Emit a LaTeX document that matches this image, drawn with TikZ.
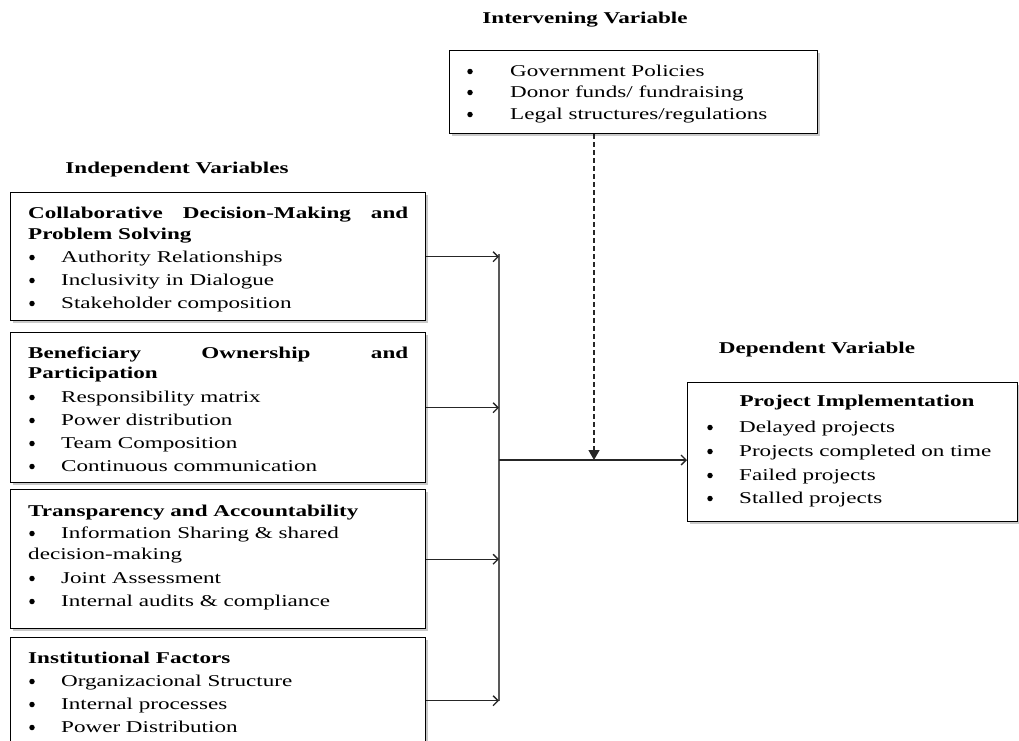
\documentclass[tikz,border=0pt]{standalone}
\usepackage{fontspec}
\setmainfont{Liberation Serif}[FakeStretch=1.40]
\usetikzlibrary{arrows.meta,shadows}
\newcommand\bl[5]{\node[bul] (#1b) at (#2,#4+1.5) {}; \node[txt] (#1) at (#3,#4+6) {#5};}
\begin{document}
\begin{tikzpicture}[x=1pt,y=-1pt,
  every node/.style={font=\fontsize{16.5}{19}\selectfont, inner sep=0pt},
  box/.style={draw=black, line width=1.4pt, fill=white, anchor=north west,
    drop shadow={shadow xshift=2pt,shadow yshift=-2.5pt,fill=black!35,opacity=0.6}},
  hd/.style={font=\fontsize{16.5}{19}\selectfont\bfseries},
  txt/.style={anchor=base west},
  bul/.style={circle, fill=black, minimum size=5.5pt, inner sep=0pt},
  conn/.style={draw=black!85, line width=1.3pt, -{Straight Barb[length=5pt,width=10pt]}},
  ]
\clip (0,0) rectangle (1019,740);
\fill[white] (0,0) rectangle (1019,740);

% headings
\node[hd] (iv) at (585,20) {Intervening Variable};
\node[hd] (idv) at (177,170) {Independent Variables};
\node[hd] (dv) at (817,350) {Dependent Variable};

% intervening box
\node[box, minimum width=368pt, minimum height=83pt] (top) at (449,50) {};
\bl{t1}{470}{510}{70}{Government Policies}
\bl{t2}{470}{510}{91}{Donor funds/ fundraising}
\bl{t3}{470}{510}{113}{Legal structures/regulations}

% box 1
\node[box, minimum width=415pt, minimum height=128pt] (b1) at (10,192) {};
\node[txt, font=\fontsize{16.5}{19}\selectfont\bfseries] (b1h1) at (28,218) {\makebox[380pt][s]{Collaborative\hfill Decision-Making\hfill and}};
\node[txt, font=\fontsize{16.5}{19}\selectfont\bfseries] (b1h2) at (28,239) {Problem Solving};
\bl{a1}{32}{61}{256}{Authority Relationships}
\bl{a2}{32}{61}{279}{Inclusivity in Dialogue}
\bl{a3}{32}{61}{302}{Stakeholder composition}

% box 2
\node[box, minimum width=415pt, minimum height=150pt] (b2) at (10,332) {};
\node[txt, font=\fontsize{16.5}{19}\selectfont\bfseries] (b2h1) at (28,358) {\makebox[380pt][s]{Beneficiary\hfill Ownership\hfill and}};
\node[txt, font=\fontsize{16.5}{19}\selectfont\bfseries] (b2h2) at (28,378) {Participation};
\bl{c1}{32}{61}{396}{Responsibility matrix}
\bl{c2}{32}{61}{419}{Power distribution}
\bl{c3}{32}{61}{442}{Team Composition}
\bl{c4}{32}{61}{465}{Continuous communication}

% box 3
\node[box, minimum width=415pt, minimum height=139pt] (b3) at (10,489) {};
\node[txt, font=\fontsize{16.5}{19}\selectfont\bfseries] (b3h1) at (28,516) {Transparency and Accountability};
\bl{d1}{32}{61}{532}{Information Sharing \& shared}
\node[txt] (d1b2) at (28,559) {decision-making};
\bl{d2}{32}{61}{577}{Joint Assessment}
\bl{d3}{32}{61}{600}{Internal audits \& compliance}

% box 4
\node[box, minimum width=415pt, minimum height=126pt] (b4) at (10,637) {};
\node[txt, font=\fontsize{16.5}{19}\selectfont\bfseries] (b4h1) at (28,663) {Institutional Factors};
\bl{e1}{32}{61}{680}{Organizacional Structure}
\bl{e2}{32}{61}{703}{Internal processes}
\bl{e3}{32}{61}{726}{Power Distribution}

% dependent box
\node[box, minimum width=330pt, minimum height=139pt] (dep) at (687,382) {};
\node[hd] (p0) at (857,403) {Project Implementation};
\bl{p1}{710}{739}{426}{Delayed projects}
\bl{p2}{710}{739}{450}{Projects completed on time}
\bl{p3}{710}{739}{474}{Failed projects}
\bl{p4}{710}{739}{497}{Stalled projects}

% connectors
\coordinate (bus) at (499,254);
\coordinate (busb) at (499,701);
\coordinate (j) at (594,460);
\draw[black!65, line width=1.8pt] (bus) -- (busb);
\draw[conn] (b1.east) -- (b1.east -| bus);
\draw[conn] (b2.east) -- (b2.east -| bus);
\draw[conn] (b3.east) -- (b3.east -| bus);
\draw[conn] (b4.east) -- (b4.east -| bus);
\draw[conn] (bus |- j) -- (j -| dep.west);
\draw[black!85, line width=1.3pt, dashed, dash pattern=on 5pt off 3pt, -{Triangle[length=10pt,width=11pt]}] (top.south -| j) -- (j);
\end{tikzpicture}
\end{document}
